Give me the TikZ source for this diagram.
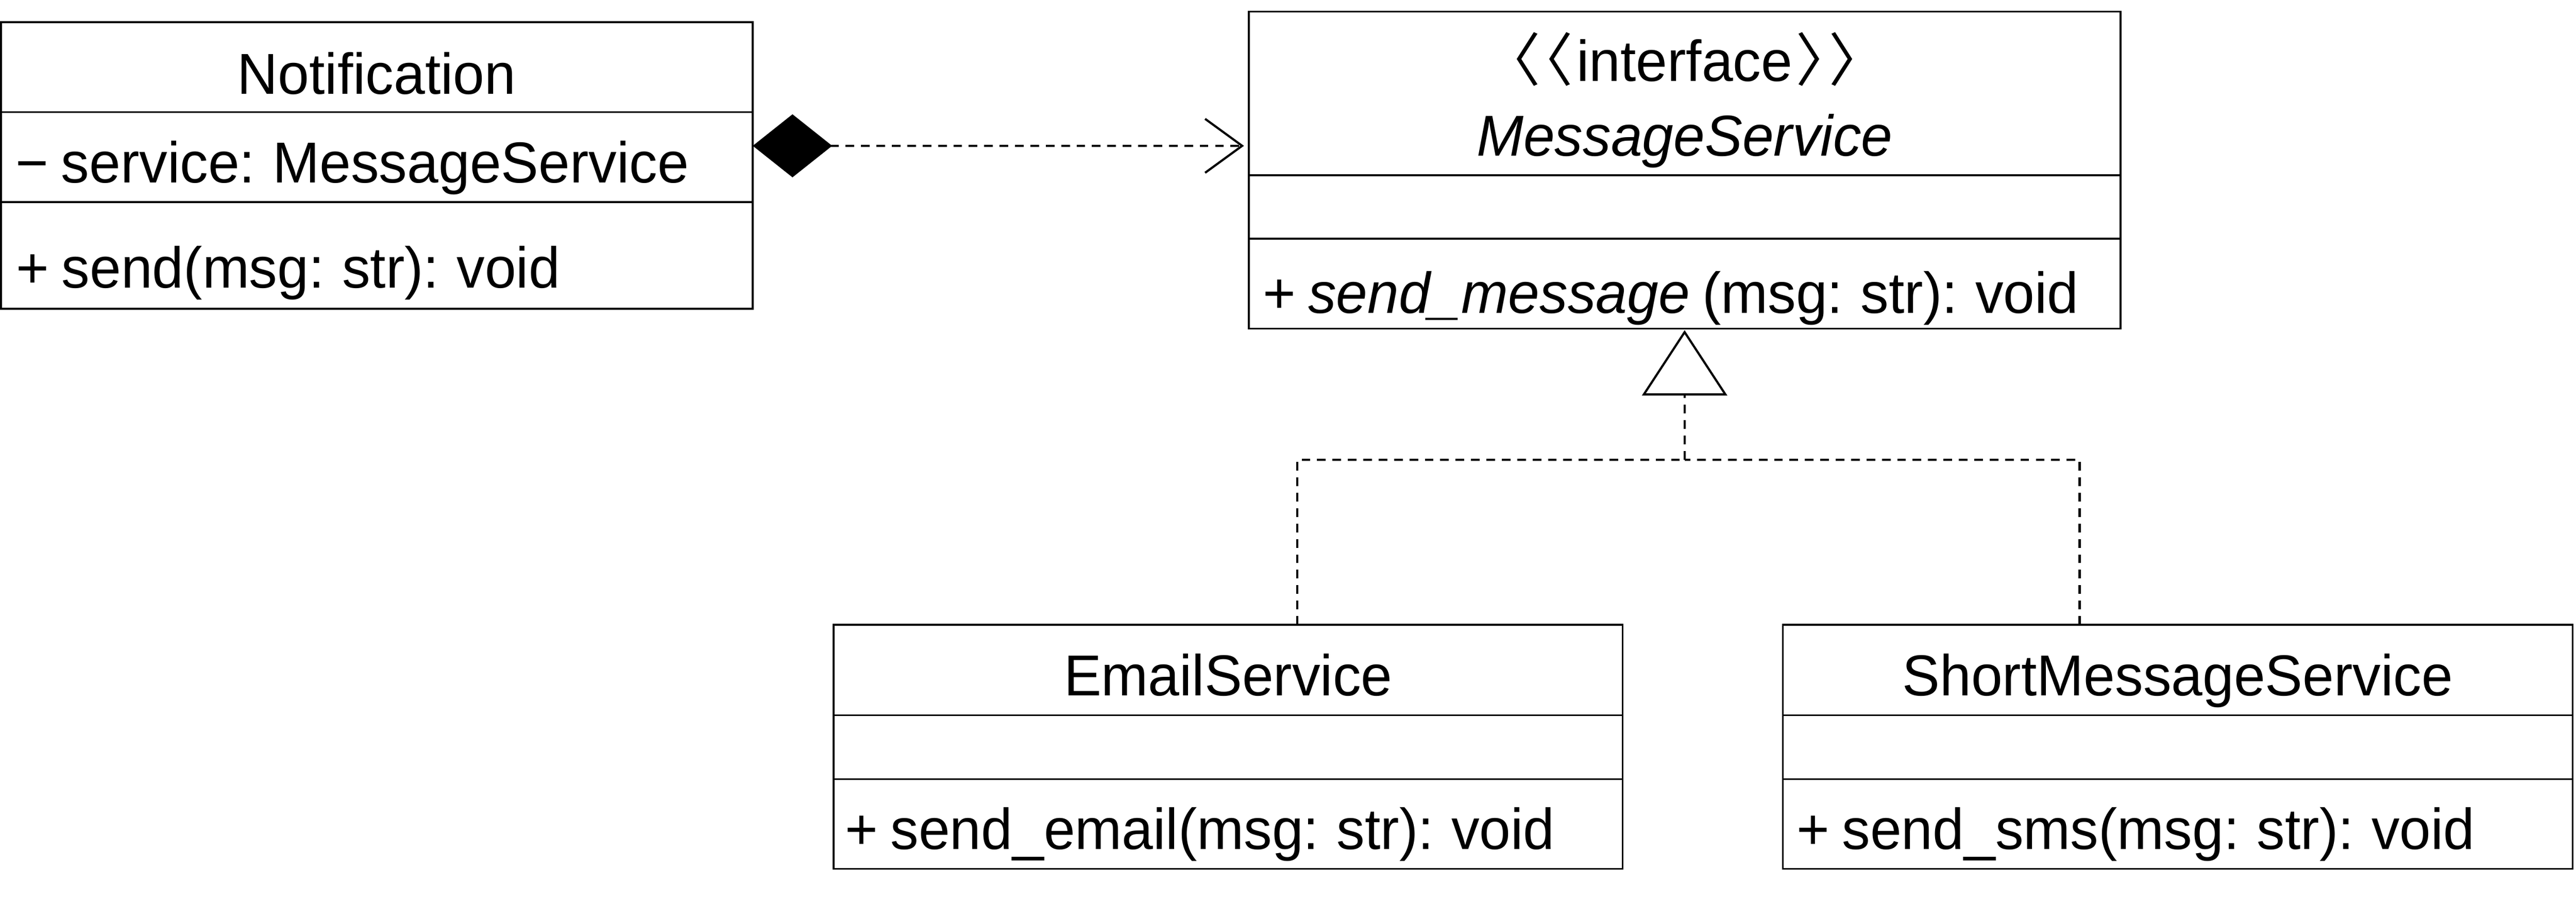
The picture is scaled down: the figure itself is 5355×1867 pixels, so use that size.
\documentclass[tikz,border=0pt]{standalone}
\usepackage{fontspec}
\setmainfont{Liberation Sans}[FakeStretch=0.975, WordSpace=0.8]
\newfontfamily\cjkfont[RawFeature=+palt]{Noto Sans CJK JP}
\usetikzlibrary{arrows.meta}
\newcommand{\lguil}{{\cjkfont\fontsize{12pt}{14pt}\selectfont 〈\kern0.8pt〈}\kern1pt}
\newcommand{\rguil}{\kern1pt{\cjkfont\fontsize{12pt}{14pt}\selectfont 〉\kern0.8pt〉}}
\tikzset{
  umlbox/.style={draw, line width=0.38pt, inner sep=0pt, outer sep=0pt, anchor=north west},
  divider/.style={line width=0.38pt},
  umltext/.style={inner sep=0pt, outer sep=0pt, font=\fontsize{12pt}{14pt}\selectfont},
  leftrow/.style={umltext, anchor=base west},
  title/.style={umltext, anchor=base},
  dashline/.style={line width=0.45pt, dash pattern=on 1.8pt off 1.4pt},
  composition/.style={dashline,
    {Diamond[length=16.5pt, width=13.1pt, fill=black, line width=0.3pt]}-{Straight Barb[length=7.7pt, width=11.2pt, line width=0.45pt]}},
  realization/.style={dashline,
    -{Triangle[open, length=13.6pt, width=17.7pt, line width=0.45pt, fill=white]}},
}
\begin{document}
\begin{tikzpicture}[x=0.1pt, y=-0.1pt]
\useasboundingbox (0,0) rectangle (5355,1867);

% Notification
\node[umlbox, minimum width=156.3pt, minimum height=59.55pt] (notif) at (2,46) {};
\draw[divider] (notif.west |- 0,233) -- (notif.east |- 0,233);
\draw[divider] (notif.west |- 0,420) -- (notif.east |- 0,420);
\node[title] (notifname) at (783,195) {Notification};
\node[leftrow] (notifattr) at (33,380) {− service: MessageService};
\node[leftrow] (notifop) at (34,598) {+ send(msg: str): void};

% MessageService
\node[umlbox, minimum width=181.2pt, minimum height=65.9pt] (msgsvc) at (2596,24) {};
\draw[divider] (msgsvc.west |- 0,364) -- (msgsvc.east |- 0,364);
\draw[divider] (msgsvc.west |- 0,496) -- (msgsvc.east |- 0,496);
\node[title] (msgstereo) at (3502,169) {\lguil interface\rguil};
\node[title] (msgname) at (3502,324) {\itshape MessageService};
\node[leftrow] (msgop) at (2625,651) {+ \textit{send\_message} (msg: str): void};

% EmailService
\node[umlbox, minimum width=164pt, minimum height=50.7pt] (email) at (1733,1298) {};
\draw[divider] (email.west |- 0,1486) -- (email.east |- 0,1486);
\draw[divider] (email.west |- 0,1619) -- (email.east |- 0,1619);
\node[title] (emailname) at (2553,1445) {EmailService};
\node[leftrow] (emailop) at (1757,1764) {+ send\_email(msg: str): void};

% ShortMessageService
\node[umlbox, minimum width=164.2pt, minimum height=50.7pt] (sms) at (3706,1298) {};
\draw[divider] (sms.west |- 0,1486) -- (sms.east |- 0,1486);
\draw[divider] (sms.west |- 0,1619) -- (sms.east |- 0,1619);
\node[title] (smsname) at (4527,1445) {ShortMessageService};
\node[leftrow] (smsop) at (3735,1764) {+ send\_sms(msg: str): void};

% composition
\draw[composition] (notif.east |- 0,303) -- ([xshift=-1pt]msgsvc.west |- 0,303);

% realization
\coordinate (junction) at (msgsvc.south |- 0,955);
\draw[dashline] ([xshift=14.4pt]email.north) |- (junction);
\draw[dashline] ([xshift=-20.4pt]sms.north) |- (junction);
\draw[realization, shorten >=0.3pt] (junction) -- (msgsvc.south);
\end{tikzpicture}
\end{document}
